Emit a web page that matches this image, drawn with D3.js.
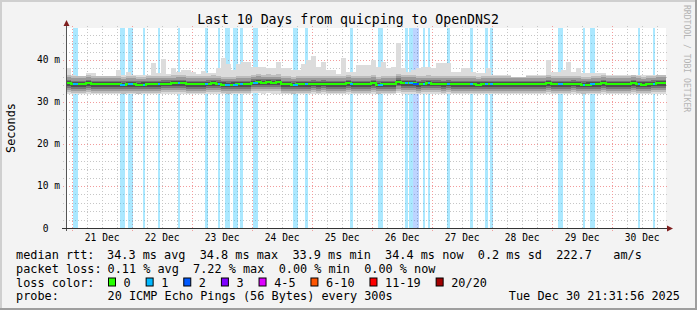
<!DOCTYPE html>
<html>
<head>
<meta charset="utf-8">
<script src="https://cdn.jsdelivr.net/npm/d3@7"></script>
<style>
body { margin: 0; background: #f3f3f3; }
svg { display: block; }
text { font-family: "DejaVu Sans Mono", monospace; fill: #000; white-space: pre; }
</style>
</head>
<body>
<svg width="697" height="310"></svg>
<script>
// --- data ---
const startTime = Date.UTC(2025, 11, 20, 21, 31, 56);
const stepHours = 2;

// median rtt per 2h step, ms
const median = [
  34.45, 34.2, 34.2, 34.3, 34.5, 34.3, 34.3, 34.25, 34.3, 34.3,
  34.3, 34.1, 34.25, 34.2, 34.1, 34.15, 34.3, 34.3, 34.3, 34.35,
  34.35, 34.4, 34.45, 34.45, 34.3, 34.2, 34.25, 34.3, 34.35, 34.4,
  34.35, 34.15, 34.1, 34.15, 34.2, 34.3, 34.3, 34.6, 34.7, 34.6,
  34.65, 34.6, 34.65, 34.25, 34.3, 34.1, 34.2, 34.3, 34.3, 34.35,
  34.3, 34.35, 34.25, 34.2, 34.25, 34.3, 34.45, 34.25, 34.2, 34.25,
  34.3, 34.45, 34.1, 34.2, 34.2, 34.25, 34.8, 34.5, 34.45, 34.5,
  34.2, 34.35, 34.4, 34.35, 34.35, 34.3, 34.35, 34.25, 34.2, 34.25,
  34.2, 34.2, 34.15, 34.2, 34.2, 34.25, 34.2, 34.2, 34.25, 34.2,
  34.2, 34.2, 34.2, 34.25, 34.2, 34.2, 34.45, 34.25, 34.2, 34.3,
  34.3, 34.35, 34.3, 34.1, 34.15, 34.2, 34.3, 34.5, 34.3, 34.25,
  34.25, 34.25, 34.3, 34.5, 34.3, 34.15, 34.2, 34.35, 34.5, 34.45
];
// slowest ping per step, ms
const pingHigh = [
  38.0, 36.4, 36.2, 36.2, 37.0, 37.0, 36.2, 36.2, 36.2, 36.2,
  37.6, 36.4, 37.2, 36.4, 36.4, 36.4, 36.4, 39.2, 36.9, 40.2,
  36.7, 38.1, 37.2, 37.6, 37.6, 37.2, 36.7, 37.4, 37.0, 37.0,
  38.0, 40.5, 39.0, 37.6, 39.0, 39.5, 39.5, 38.4, 38.4, 38.4,
  38.1, 38.1, 39.5, 38.0, 38.0, 37.6, 37.6, 39.0, 40.0, 41.0,
  38.4, 39.4, 37.6, 37.6, 36.7, 40.4, 37.2, 37.2, 38.7, 38.7,
  38.7, 40.0, 38.4, 39.6, 38.1, 38.4, 44.1, 38.1, 37.2, 37.6,
  38.1, 38.4, 38.4, 38.1, 39.3, 39.3, 39.3, 37.2, 37.2, 38.1,
  38.1, 37.2, 36.8, 36.8, 38.1, 36.4, 36.4, 36.4, 36.4, 36.0,
  36.0, 36.0, 36.4, 36.4, 36.4, 36.4, 40.0, 37.2, 37.2, 37.6,
  39.6, 37.2, 38.1, 36.8, 36.8, 36.8, 36.8, 36.8, 36.4, 36.4,
  36.4, 36.4, 36.4, 36.4, 36.4, 36.4, 36.4, 36.4, 36.4, 36.4
];
// fastest ping per step, ms
const pingLow = [
  31.9, 31.8, 31.9, 31.9, 32.0, 31.9, 31.8, 31.9, 31.9, 32.0,
  31.9, 31.8, 31.9, 31.9, 31.8, 31.9, 31.9, 32.0, 31.9, 31.9,
  31.9, 32.0, 32.0, 31.9, 31.9, 31.8, 31.9, 31.9, 32.0, 32.0,
  31.9, 31.8, 31.8, 31.9, 31.9, 31.9, 31.9, 32.1, 32.1, 32.0,
  32.1, 32.0, 32.0, 31.9, 31.9, 31.8, 31.8, 31.9, 31.9, 31.9,
  31.9, 31.9, 31.9, 31.8, 31.9, 31.9, 32.0, 31.9, 31.8, 31.9,
  31.9, 32.0, 31.8, 31.8, 31.9, 31.9, 32.1, 32.0, 32.0, 32.0,
  31.8, 31.9, 31.9, 31.9, 31.9, 31.9, 31.9, 31.9, 31.8, 31.9,
  31.8, 31.8, 31.8, 31.8, 31.8, 31.9, 31.8, 31.8, 31.9, 31.8,
  31.8, 31.8, 31.8, 31.9, 31.8, 31.8, 32.0, 31.9, 31.8, 31.9,
  31.9, 31.9, 31.9, 31.8, 31.8, 31.8, 31.9, 32.0, 31.9, 31.9,
  31.9, 31.9, 31.9, 32.0, 31.9, 31.8, 31.8, 31.9, 32.0, 32.0
];
// packet loss: [hours after start, duration in hours, pings lost]
const lossEvents = [
  [2.8, 1.9, 1], [21.7, 1.9, 1], [24.8, 1.9, 1], [30.8, 0.8, 1], [36.8, 0.8, 1],
  [44.7, 0.8, 1], [55.7, 1.1, 1], [60.8, 0.8, 1], [63.7, 1.9, 1], [66.8, 1.9, 1],
  [69.6, 1.1, 1], [74.9, 1.8, 1], [90.8, 1.9, 1], [95.6, 1.1, 1], [113.6, 1.1, 1],
  [124.8, 1.9, 1], [135.6, 1.1, 1], [137.2, 1.7, 1], [138.9, 2.4, 2], [142.7, 0.9, 1],
  [144.7, 0.9, 1], [152.5, 1.1, 1], [161.6, 1.2, 1], [167.6, 1.1, 1], [169.6, 1.1, 1],
  [196.8, 1.9, 1], [206.8, 0.9, 1], [209.6, 2.0, 1], [228.7, 0.9, 1], [234.7, 1.0, 1]
];

const yTicks = [0, 10, 20, 30, 40];
const lossLabels = ["0", "1", "2", "3", "4-5", "6-10", "11-19", "20/20"];
const lossColors = ["#26ff00", "#00b8ff", "#0059ff", "#7e00ff", "#dd00ff", "#ff5500", "#ff0000", "#a10000"];
const rttStats = ["34.3 ms avg", "34.8 ms max", "33.9 ms min", "34.4 ms now", "0.2 ms sd", "222.7   am/s"];
const lossStats = ["0.11 % avg", "7.22 % max", "0.00 % min", "0.00 % now"];
const title = "Last 10 Days from quicping to OpenDNS2";
const probeText = "20 ICMP Echo Pings (56 Bytes) every 300s";
const stamp = "Tue Dec 30 21:31:56 2025";

// --- layout ---
const W = 697, H = 310;
const pL = 66, pR = 666, pT = 28, pB = 228;
const HOUR = 3600e3;
const legendFont = 11.85, axisFont = 9.6;

const svg = d3.select("svg");
const x = d3.scaleTime()
  .domain([new Date(startTime), new Date(startTime + 240 * HOUR)])
  .range([pL, pR]);
const y = d3.scaleLinear().domain([0, 47.6]).range([pB, pT]);

// loss count -> legend colour index
function lossIndex(n) {
  if (n <= 3) return n;
  if (n <= 5) return 4;
  if (n <= 10) return 5;
  if (n <= 19) return 6;
  return 7;
}

// frame
svg.append("rect").attr("width", W).attr("height", H).attr("fill", "#f3f3f3");
svg.append("path").attr("d", `M0,0H${W}V2H2V${H}H0Z`).attr("fill", "#cfcfcf");
svg.append("path").attr("d", `M${W},${H}H0V${H-2}H${W-2}V0H${W}Z`).attr("fill", "#9e9e9e");
svg.append("rect").attr("x", pL).attr("y", pT)
  .attr("width", pR - pL).attr("height", pB - pT).attr("fill", "#fff");

// grid
const grid = svg.append("g").attr("stroke-dasharray", "1,2").attr("stroke-width", 1);
d3.range(2, 48, 2).filter(v => v % 10).forEach(v => {
  grid.append("line").attr("x1", pL - 3).attr("x2", pR + 2)
    .attr("y1", Math.round(y(v)) + 0.5).attr("y2", Math.round(y(v)) + 0.5)
    .attr("stroke", "#c6c6c6");
});
x.ticks(d3.utcHour.every(6)).filter(d => d.getUTCHours() !== 0).forEach(d => {
  grid.append("line").attr("y1", pT - 2).attr("y2", pB + 1)
    .attr("x1", Math.round(x(d)) + 0.5).attr("x2", Math.round(x(d)) + 0.5)
    .attr("stroke", "#c6c6c6");
});
yTicks.filter(v => v > 0).forEach(v => {
  grid.append("line").attr("x1", pL - 3).attr("x2", pR + 2)
    .attr("y1", Math.round(y(v)) + 0.5).attr("y2", Math.round(y(v)) + 0.5)
    .attr("stroke", "#f29c9c");
});
x.ticks(d3.utcDay.every(1)).forEach(d => {
  grid.append("line").attr("y1", pT - 2).attr("y2", pB + 3)
    .attr("x1", Math.round(x(d)) + 0.5).attr("x2", Math.round(x(d)) + 0.5)
    .attr("stroke", "#f29c9c");
});

// loss background bars
const hourTime = h => new Date(startTime + h * HOUR);
svg.append("g").attr("shape-rendering", "crispEdges").selectAll("rect")
  .data(lossEvents)
  .join("rect")
  .attr("x", d => x(hourTime(d[0])))
  .attr("width", d => x(hourTime(d[0] + d[1])) - x(hourTime(d[0])))
  .attr("y", pT).attr("height", pB - pT)
  .attr("fill", d => lossColors[lossIndex(d[2])])
  .attr("fill-opacity", d => d[2] > 1 ? 0.26 : 0.33);

// steps
const steps = median.map((m, i) => ({
  t: hourTime(i * stepHours),
  med: m, hi: pingHigh[i], lo: pingLow[i]
}));
steps.push({ ...steps[steps.length - 1], t: hourTime(240) });

// smoke: outer ping range, then darker shells around the median
const smokeShells = [
  { below: 2.1, above: 1.9, color: "#bdbdbd" },
  { below: 1.6, above: 1.4, color: "#9a9a9a" },
  { below: 1.1, above: 0.8, color: "#767676" },
  { below: 0.65, above: 0.5, color: "#505050" }
];
const smoke = svg.append("g").attr("shape-rendering", "crispEdges");
smoke.append("path").datum(steps)
  .attr("fill", "#dcdcdc")
  .attr("d", d3.area().curve(d3.curveStepAfter)
    .x(d => x(d.t)).y0(d => y(d.lo)).y1(d => y(d.hi)));
smokeShells.forEach(s => {
  smoke.append("path").datum(steps)
    .attr("fill", s.color)
    .attr("d", d3.area().curve(d3.curveStepAfter)
      .x(d => x(d.t))
      .y0(d => y(Math.max(d.lo, d.med - s.below)))
      .y1(d => y(Math.min(d.hi, d.med + s.above))));
});

// median line (green), recoloured where pings were lost
const medY = v => Math.round(y(v));
const medLayer = svg.append("g").attr("shape-rendering", "crispEdges");
medLayer.append("path").datum(steps)
  .attr("fill", "none").attr("stroke", lossColors[0]).attr("stroke-width", 2)
  .attr("d", d3.line().curve(d3.curveStepAfter).x(d => Math.round(x(d.t))).y(d => medY(d.med)));
medLayer.selectAll("line")
  .data(lossEvents)
  .join("line")
  .attr("x1", d => Math.round(x(hourTime(d[0])))).attr("x2", d => Math.round(x(hourTime(d[0] + d[1]))))
  .attr("y1", d => medY(median[Math.floor((d[0] + d[1] / 2) / stepHours)]))
  .attr("y2", d => medY(median[Math.floor((d[0] + d[1] / 2) / stepHours)]))
  .attr("stroke", d => lossColors[lossIndex(d[2])]).attr("stroke-width", 2);

// axes with arrows
svg.append("line").attr("x1", pL + 0.5).attr("x2", pL + 0.5)
  .attr("y1", pB + 3).attr("y2", pT - 6).attr("stroke", "#555");
svg.append("line").attr("x1", pL - 4).attr("x2", pR + 2)
  .attr("y1", pB + 0.5).attr("y2", pB + 0.5).attr("stroke", "#333");
svg.append("path").attr("fill", "#7f1f1f")
  .attr("d", `M${pL - 2.5},${pT - 2}L${pL + 3.5},${pT - 2}L${pL + 0.5},${pT - 8}Z`);
svg.append("path").attr("fill", "#7f1f1f")
  .attr("d", `M${pR + 1},${pB - 2.5}L${pR + 1},${pB + 3.5}L${pR + 7},${pB + 0.5}Z`);

// axis labels
svg.append("g").selectAll("text")
  .data(yTicks)
  .join("text")
  .attr("x", pL - 6).attr("y", d => y(d) + 3.5)
  .attr("text-anchor", "end").attr("font-size", axisFont)
  .text(d => d === 0 ? "0  " : d + " m");
const noon = x.ticks(d3.utcDay.every(1)).map(d => d3.utcHour.offset(d, 12)).filter(d => x(d) < pR);
svg.append("g").selectAll("text")
  .data(noon)
  .join("text")
  .attr("x", d => x(d)).attr("y", pB + 13)
  .attr("text-anchor", "middle").attr("font-size", axisFont)
  .text(d3.utcFormat("%d %b"));

// title, unit, watermark
svg.append("text").attr("x", 348).attr("y", 24).attr("text-anchor", "middle")
  .attr("font-size", 13.2).text(title);
svg.append("text").attr("transform", `translate(15,${(pT + pB) / 2}) rotate(-90)`)
  .attr("text-anchor", "middle").attr("font-size", legendFont).text("Seconds");
svg.append("text").attr("transform", "translate(684,5) rotate(90)")
  .attr("font-size", 8.1).style("fill", "#b4b4b4").text("RRDTOOL / TOBI OETIKER");

// legend
const leg = svg.append("g").attr("font-size", legendFont);
const rowY = [258.5, 272.5, 286.5, 300.4];
const cw = legendFont * 0.602;
leg.append("text").attr("x", 16).attr("y", rowY[0]).text("median rtt:");
leg.append("text").attr("x", 107).attr("y", rowY[0]).text(rttStats.join("  "));
leg.append("text").attr("x", 16).attr("y", rowY[1]).text("packet loss:");
leg.append("text").attr("x", 107.5).attr("y", rowY[1]).text(lossStats.join("  "));
leg.append("text").attr("x", 16).attr("y", rowY[2]).text("loss color:");
let cx = 108;
lossLabels.forEach((lab, i) => {
  leg.append("rect").attr("x", cx + 0.5).attr("y", rowY[2] - 8.5).attr("width", 7).attr("height", 8)
    .attr("fill", lossColors[i]).attr("stroke", "#000").attr("stroke-width", 1);
  leg.append("text").attr("x", cx + 15.6).attr("y", rowY[2]).text(lab);
  cx += 15.6 + lab.length * cw + 14.9;
});
leg.append("text").attr("x", 16).attr("y", rowY[3]).text("probe:");
leg.append("text").attr("x", 107.5).attr("y", rowY[3]).text(probeText);
leg.append("text").attr("x", 680).attr("y", rowY[3]).attr("text-anchor", "end").text(stamp);
</script>
</body>
</html>
